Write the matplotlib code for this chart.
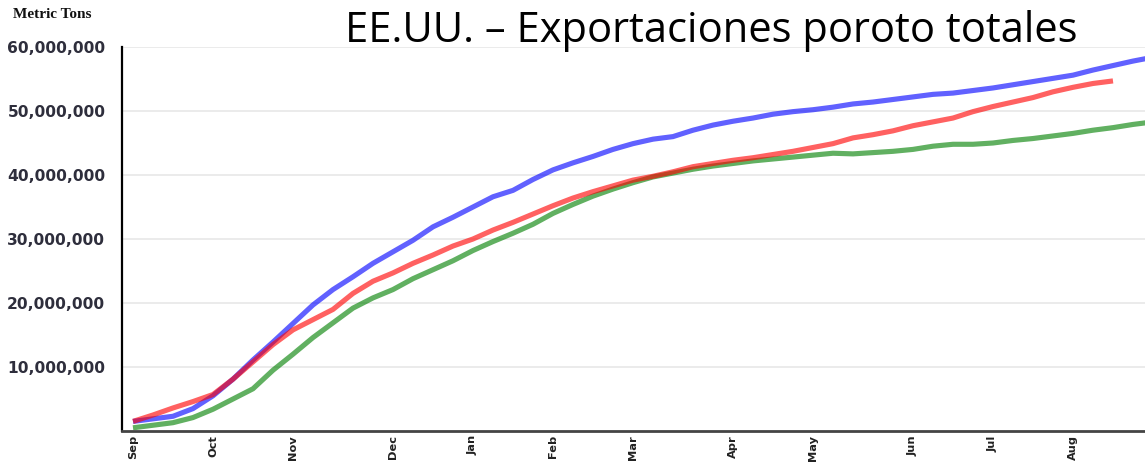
import matplotlib
matplotlib.use("Agg")
import matplotlib.pyplot as plt
from matplotlib.ticker import FixedLocator, FuncFormatter

# ---- data (million metric tons, weekly cumulative) ----
blue_vals = [1.5, 1.9, 2.3, 3.5, 5.5, 8.1, 11.1, 13.9, 16.8, 19.7, 22.1, 24.1, 26.2, 28.0,
             29.8, 31.9, 33.4, 35.0, 36.6, 37.6, 39.3, 40.8, 41.9, 42.9, 44.0, 44.9, 45.6,
             46.0, 47.0, 47.8, 48.4, 48.9, 49.5, 49.9, 50.2, 50.6, 51.1, 51.4, 51.8, 52.2,
             52.6, 52.8, 53.2, 53.6, 54.1, 54.6, 55.1, 55.6, 56.4, 57.1, 57.8, 58.4]
red_vals = [1.5, 2.5, 3.6, 4.6, 5.7, 8.1, 10.8, 13.5, 15.8, 17.4, 19.0, 21.5, 23.4, 24.7,
            26.2, 27.5, 28.9, 30.0, 31.4, 32.6, 33.9, 35.2, 36.4, 37.4, 38.3, 39.2, 39.8,
            40.5, 41.3, 41.8, 42.3, 42.7, 43.2, 43.7, 44.3, 44.9, 45.8, 46.3, 46.9, 47.7,
            48.3, 48.9, 49.9, 50.7, 51.4, 52.1, 53.0, 53.7, 54.3, 54.7]
green_vals = [0.5, 0.9, 1.3, 2.1, 3.4, 5.0, 6.6, 9.5, 12.0, 14.6, 16.9, 19.2, 20.8, 22.1,
              23.8, 25.2, 26.6, 28.2, 29.6, 30.9, 32.3, 34.0, 35.4, 36.7, 37.8, 38.8, 39.7,
              40.3, 40.9, 41.4, 41.8, 42.2, 42.5, 42.8, 43.1, 43.4, 43.3, 43.5, 43.7, 44.0,
              44.5, 44.8, 44.8, 45.0, 45.4, 45.7, 46.1, 46.5, 47.0, 47.4, 47.9, 48.3]

month_labels = ["Sep", "Oct", "Nov", "Dec", "Jan", "Feb", "Mar", "Apr", "May", "Jun", "Jul", "Aug"]
month_weeks = [0, 4, 8, 13, 17, 21, 25, 30, 34, 39, 43, 47]
y_ticks = [10e6, 20e6, 30e6, 40e6, 50e6, 60e6]

title = "EE.UU. – Exportaciones poroto totales"
y_unit = "Metric Tons"

# ---- figure ----
fig = plt.figure(figsize=(11.45, 4.62), dpi=100)
ax = fig.add_axes([122 / 1145, 31 / 462, 1 - 122 / 1145, (431 - 47) / 462])

def plot_series(vals, color):
    xs = list(range(len(vals)))
    ys = [v * 1e6 for v in vals]
    ax.plot(xs, ys, color=color, lw=3.7, alpha=0.62, solid_capstyle="butt",
            solid_joinstyle="round", clip_on=True)

plot_series(blue_vals, (0, 0, 1))
plot_series(green_vals, (0, 0.5, 0))
plot_series(red_vals, (1, 0, 0))

ax.set_xlim(-0.55, 50.6)
ax.set_ylim(0, 60e6)

ax.yaxis.set_major_locator(FixedLocator(y_ticks))
ax.yaxis.set_major_formatter(FuncFormatter(lambda v, p: f"{int(round(v)):,}"))
ax.xaxis.set_major_locator(FixedLocator(month_weeks))
ax.set_xticklabels(month_labels, rotation=90, va="top", ha="center",
                   fontsize=8.2, fontweight="bold", color="#222222")
for lab in ax.get_yticklabels():
    lab.set_fontsize(11.2)
    lab.set_fontweight("bold")
    lab.set_color("#2e2e3c")

ax.tick_params(axis="y", length=0, pad=12)
ax.tick_params(axis="x", length=0, pad=3)

ax.grid(axis="y", color="#e8e8e8", lw=1.2)
ax.set_axisbelow(True)
for s in ["top", "right"]:
    ax.spines[s].set_visible(False)
ax.spines["left"].set_color("#000000")
ax.spines["left"].set_linewidth(1.6)
ax.spines["bottom"].set_color("#444444")
ax.spines["bottom"].set_linewidth(2.0)

fig.text(345 / 1145, 1 - 42 / 462, title, ha="left", va="baseline",
         fontsize=30, family="Open Sans", color="#000000")
fig.text(13 / 1145, 1 - 8 / 462, y_unit, ha="left", va="top",
         fontsize=11, family="Liberation Serif", fontweight="bold", color="#111111")

fig.savefig("out.png", dpi=100)
